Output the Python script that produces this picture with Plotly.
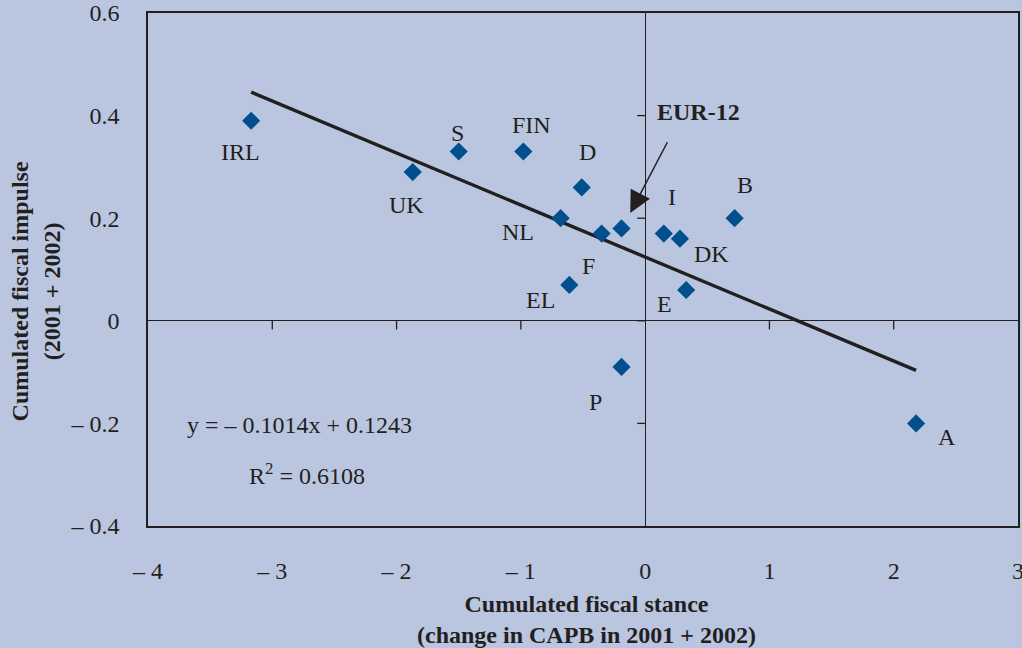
import plotly.graph_objects as go

# Country codes and their cumulated fiscal stance / impulse (2001 + 2002)
countries = ["IRL", "UK", "S", "FIN", "D", "NL", "F", "EUR-12", "EL",
             "I", "DK", "B", "E", "P", "A"]
stance = [-3.17, -1.87, -1.50, -0.98, -0.51, -0.68, -0.35, -0.19, -0.61,
          0.15, 0.28, 0.72, 0.33, -0.19, 2.18]
impulse = [0.39, 0.29, 0.33, 0.33, 0.26, 0.20, 0.17, 0.18, 0.07,
           0.17, 0.16, 0.20, 0.06, -0.09, -0.20]

# Linear regression reported on the chart
slope = -0.1014
intercept = 0.1243
r_squared = 0.6108

x_ticks = [-4, -3, -2, -1, 0, 1, 2, 3]
y_ticks = [-0.4, -0.2, 0, 0.2, 0.4, 0.6]


def fmt(v, digits):
    s = f"{abs(v):.{digits}f}" if digits else f"{abs(v):g}"
    return ("\u2013 " + s) if v < 0 else s


x_ticktext = [fmt(v, 0) for v in x_ticks]
y_ticktext = [fmt(v, 1) if v != 0 else "0" for v in y_ticks]

# Label placement offsets (pixels) relative to each point
label_offsets = {
    "IRL": (-11, -31), "UK": (-6, -33), "S": (-1, 19), "FIN": (8, 27),
    "D": (6, 35), "NL": (-43, -14), "F": (-13, -32), "EL": (-29, -15),
    "I": (8, 37), "B": (10, 33), "DK": (32, -15), "E": (-22, -14),
    "P": (-26, -35), "A": (31, -14),
}

BG = "rgb(186,198,224)"
INK = "#231f20"
MARK = "#024f8e"
FONT = "Liberation Serif"
FS = 24

fig = go.Figure()

# Trend line over the span of the observations
x0, x1 = min(stance), max(stance)
fig.add_trace(go.Scatter(
    x=[x0, x1], y=[slope * x0 + intercept, slope * x1 + intercept],
    mode="lines", line=dict(color=INK, width=3.4), hoverinfo="skip",
    showlegend=False,
))

fig.add_trace(go.Scatter(
    x=stance, y=impulse, mode="markers", text=countries,
    marker=dict(symbol="diamond", size=14, color=MARK),
    showlegend=False,
))

annotations = []
for c, xv, yv in zip(countries, stance, impulse):
    if c in label_offsets:
        dx, dy = label_offsets[c]
        annotations.append(dict(
            x=xv, y=yv, text=c, showarrow=False, xshift=dx, yshift=dy,
            font=dict(family=FONT, size=FS, color=INK),
        ))

# EUR-12 callout with arrow
i_eur = countries.index("EUR-12")
ex, ey = stance[i_eur], impulse[i_eur]
annotations.append(dict(
    x=ex + 0.07, y=ey + 0.03, ax=ex + 0.375, ay=ey + 0.171,
    xref="x", yref="y", axref="x", ayref="y", text="",
    showarrow=True, arrowhead=2, arrowsize=2.9, arrowwidth=1.5,
    arrowcolor=INK, standoff=0,
))
annotations.append(dict(
    x=ex, y=ey, xshift=77, yshift=116, text="<b>EUR-12</b>", showarrow=False,
    font=dict(family=FONT, size=FS, color=INK),
))

# Regression equation and fit
annotations.append(dict(
    x=-2.78, y=-0.203, text=f"y = \u2013 {abs(slope):.4f}x + {intercept:.4f}",
    showarrow=False, font=dict(family=FONT, size=FS, color=INK),
))
annotations.append(dict(
    x=-2.72, y=-0.298, text=f"R<sup>2</sup> = {r_squared:.4f}",
    showarrow=False, font=dict(family=FONT, size=FS, color=INK),
))

# Axis titles
annotations.append(dict(
    xref="paper", yref="paper", x=0.504, y=-0.122, yanchor="top",
    text="<b>Cumulated fiscal stance</b><br><b>(change in CAPB in 2001 + 2002)</b>",
    showarrow=False, font=dict(family=FONT, size=24, color=INK),
))
annotations.append(dict(
    xref="paper", yref="paper", x=-0.1645, y=0.458, xanchor="left",
    text="<b>Cumulated fiscal impulse</b><br><b>(2001 + 2002)</b>",
    textangle=-90, showarrow=False, font=dict(family=FONT, size=24, color=INK),
))

# Tick marks drawn on the zero lines
shapes = []
for v in x_ticks:
    if v not in (0, x_ticks[0], x_ticks[-1]):
        shapes.append(dict(type="line", xref="x", yref="y domain",
                           x0=v, x1=v, y0=0.4, y1=0.383,
                           line=dict(color=INK, width=1.3)))
for v in y_ticks:
    if v not in (y_ticks[0], y_ticks[-1]):
        shapes.append(dict(type="line", xref="x domain", yref="y",
                           x0=4 / 7, x1=4 / 7 - 0.0092, y0=v, y1=v,
                           line=dict(color=INK, width=1.3)))

fig.update_layout(
    width=1022, height=648,
    margin=dict(l=148, r=4, t=13, b=122),
    paper_bgcolor=BG, plot_bgcolor=BG,
    font=dict(family=FONT, size=FS, color=INK),
    annotations=annotations, shapes=shapes,
    xaxis=dict(
        range=[-4, 3], tickvals=x_ticks, ticktext=x_ticktext,
        showgrid=False, zeroline=True, zerolinecolor=INK, zerolinewidth=1.3,
        showline=True, mirror=True, linecolor=INK, linewidth=1.5,
        ticks="", ticklabelstandoff=22, tickfont=dict(size=FS),
        ticklabeloverflow="allow", automargin=False,
    ),
    yaxis=dict(
        range=[-0.4, 0.6], tickvals=y_ticks, ticktext=y_ticktext,
        showgrid=False, zeroline=True, zerolinecolor=INK, zerolinewidth=1.3,
        showline=True, mirror=True, linecolor=INK, linewidth=1.5,
        ticks="", ticklabelstandoff=22, tickfont=dict(size=FS),
        ticklabeloverflow="allow", automargin=False,
    ),
)

fig.write_html("out.html")
